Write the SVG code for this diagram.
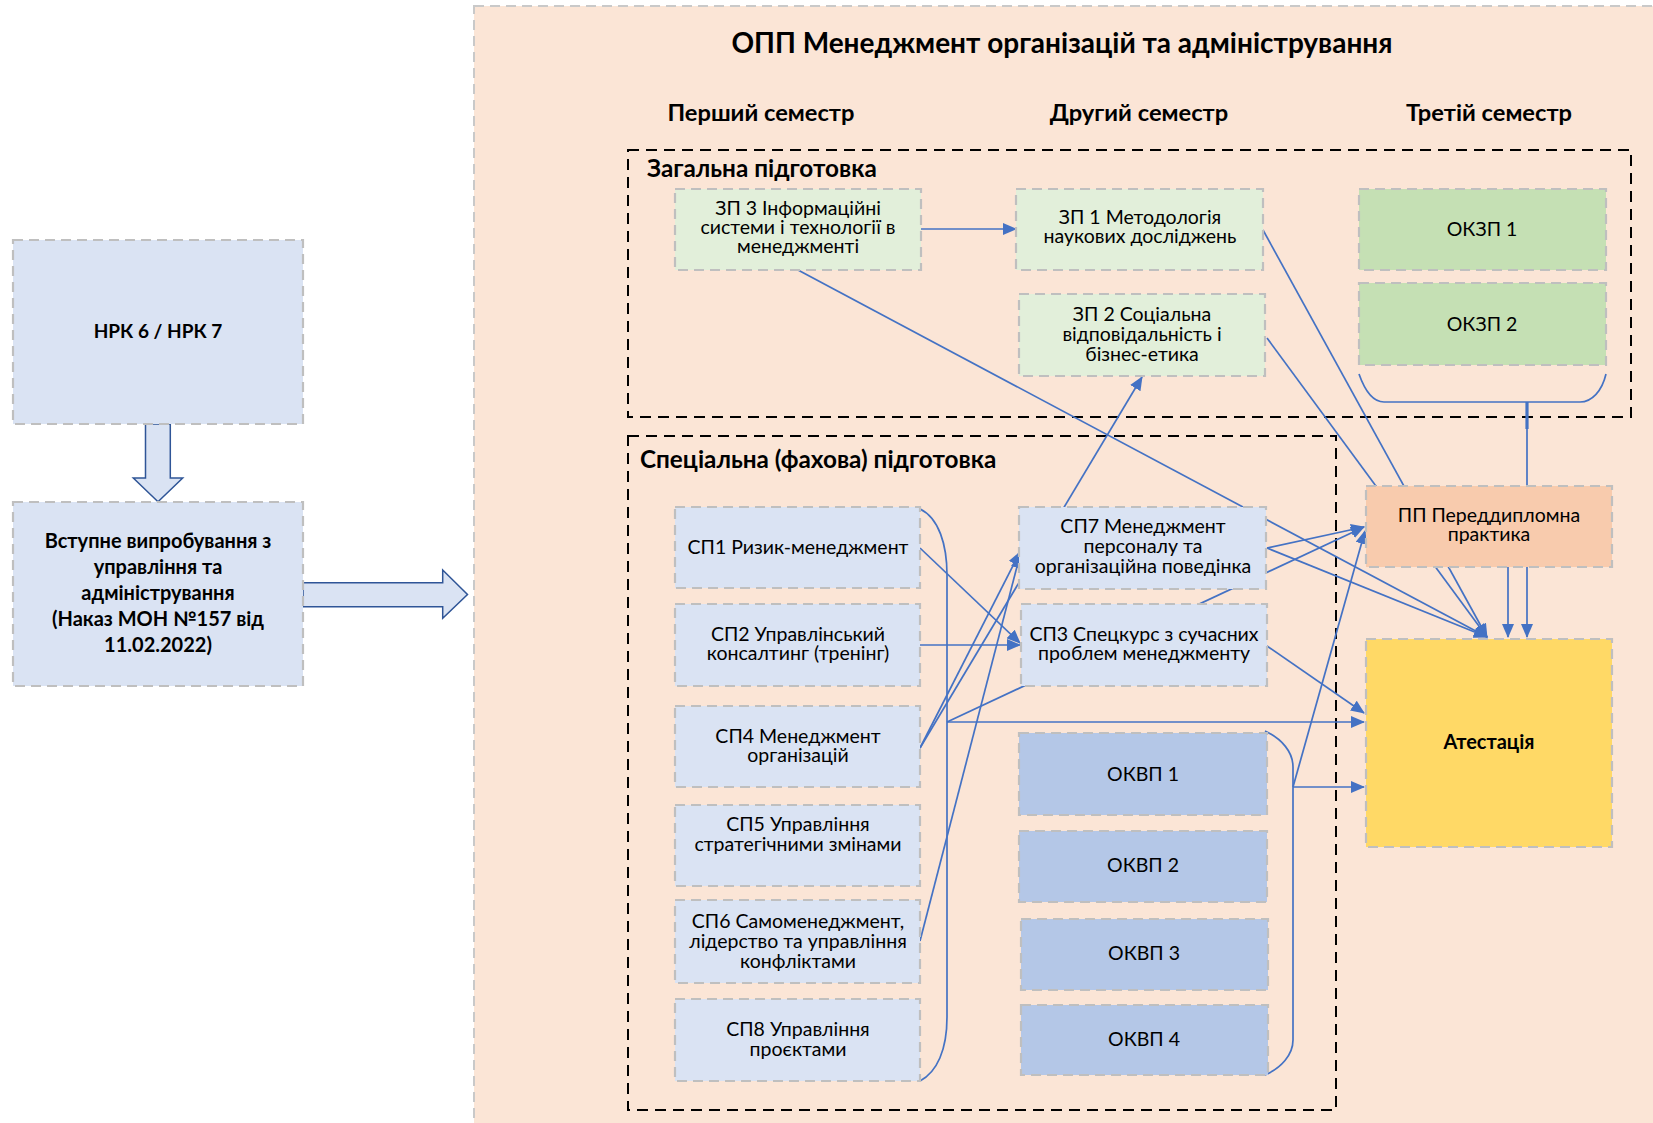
<svg xmlns="http://www.w3.org/2000/svg" width="1653" height="1123" viewBox="0 0 1653 1123">
<defs>
<style>
.bg{fill:#FBE5D6;stroke:#C9C9C9;stroke-width:2;stroke-dasharray:10 6}
.grp{fill:none;stroke:#000;stroke-width:2;stroke-dasharray:11 7}
.n{stroke:#BFBFBF;stroke-width:2.2;stroke-dasharray:10 6}
.b1{fill:#DAE3F3}
.g1{fill:#E2EFDA}
.g2{fill:#C5E0B4}
.b2{fill:#B4C7E7}
.o1{fill:#F8CBAD}
.y1{fill:#FFD966}
text{font-family:"Lato","Carlito","Noto Sans",sans-serif;fill:#000}
.t{font-size:19.5px;text-anchor:middle}
.tb{font-size:20px;font-weight:bold;text-anchor:middle}
.h{font-size:28px;font-weight:bold;text-anchor:middle}
.sh{font-size:23.7px;font-weight:bold;text-anchor:middle}
.gl{font-size:24.3px;font-weight:bold}
.c{fill:none;stroke:#4472C4;stroke-width:1.7}
.ca{fill:none;stroke:#4472C4;stroke-width:1.7;marker-end:url(#ah)}
.big{fill:#DAE3F3;stroke:#2F5597;stroke-width:1.5}
</style>
<marker id="ah" markerUnits="userSpaceOnUse" markerWidth="14" markerHeight="12" viewBox="0 0 14 12" refX="13" refY="6" orient="auto">
<path d="M0,0 L14,6 L0,12 Z" fill="#4472C4"/>
</marker>
</defs>

<rect class="bg" x="474" y="6" width="1200" height="1140"/>

<text class="h" x="1062" y="53">ОПП Менеджмент організацій та адміністрування</text>
<text class="sh" x="761" y="121">Перший семестр</text>
<text class="sh" x="1139" y="121">Другий семестр</text>
<text class="sh" x="1489" y="121">Третій семестр</text>

<g id="group-general">
<rect class="grp" x="628" y="150" width="1003" height="267"/>
<text class="gl" x="647" y="177">Загальна підготовка</text>
</g>
<g id="group-special">
<rect class="grp" x="628" y="436" width="708" height="674"/>
<text class="gl" x="640" y="468">Спеціальна (фахова) підготовка</text>
</g>

<g id="connectors">
<path class="ca" d="M921,229 L1016,229"/>
<path class="ca" d="M798,270 L1487,637"/>
<path class="ca" d="M1263,230 L1487,637"/>
<path class="ca" d="M1267,338 L1487,637"/>
<path class="ca" d="M1267,548 L1487,637"/>
<path class="ca" d="M1267,548 L1364,527"/>
<path class="ca" d="M947,722 L1364,527"/>
<path class="ca" d="M1293,787 L1365,531"/>
<path class="ca" d="M1267,646 L1364,713"/>
<path class="ca" d="M947,722 L1364,722"/>
<path class="ca" d="M1293,787 L1364,787"/>
<path class="ca" d="M1508,567 L1508,637"/>
<path class="ca" d="M1527,402 L1527,637"/>
<path class="c" d="M1527,402 L1527,429" style="stroke-width:3.2"/>
<path class="ca" d="M920,548 L1020,643"/>
<path class="ca" d="M920,645 L1020,645"/>
<path class="ca" d="M920,748 L1020,552"/>
<path class="ca" d="M920,748 L1142,377"/>
<path class="ca" d="M920,941 L1020,555"/>
<path class="c" d="M920,509 C939,518 947,545 947,575 L947,1017 C947,1050 937,1072 920,1081"/>
<path class="c" d="M1265,731 C1282,739 1293,752 1293,767 L1293,1040 C1293,1055 1281,1068 1265,1075"/>
<path class="c" d="M1359,374 C1365,391 1373,402 1384,402 L1580,402 C1592,402 1602,391 1606,374"/>
<polygon class="big" points="145.5,424 170.3,424 170.3,478 182.7,478 158,501.7 133.3,478 145.5,478"/>
<polygon class="big" points="303,582.7 442.7,582.7 442.7,570 467.5,594.5 442.7,618.3 442.7,606.7 303,606.7"/>
</g>

<g id="nrk"><rect class="n b1" x="13" y="240" width="290" height="184"/>
<text class="tb" x="158" y="338" style="font-size:19px">НРК 6 / НРК 7</text></g>
<g id="vstup"><rect class="n b1" x="13" y="502" width="290" height="184"/>
<text class="tb" x="158" y="548">Вступне випробування з</text>
<text class="tb" x="158" y="574">управління та</text>
<text class="tb" x="158" y="600">адміністрування</text>
<text class="tb" x="158" y="626">(Наказ МОН №157 від</text>
<text class="tb" x="158" y="652">11.02.2022)</text></g>

<g id="zp3"><rect class="n g1" x="675" y="189" width="246" height="81"/>
<text class="t" x="798" y="215">ЗП 3 Інформаційні</text>
<text class="t" x="798" y="234">системи і технології в</text>
<text class="t" x="798" y="253">менеджменті</text></g>
<g id="zp1"><rect class="n g1" x="1016" y="189" width="247" height="81"/>
<text class="t" x="1140" y="224">ЗП 1 Методологія</text>
<text class="t" x="1140" y="243">наукових досліджень</text></g>
<g id="zp2"><rect class="n g1" x="1019" y="294" width="246" height="82"/>
<text class="t" x="1142" y="321">ЗП 2 Соціальна</text>
<text class="t" x="1142" y="341">відповідальність і</text>
<text class="t" x="1142" y="361">бізнес-етика</text></g>
<g id="okzp1"><rect class="n g2" x="1359" y="189" width="247" height="81"/>
<text class="t" x="1482" y="236">ОКЗП 1</text></g>
<g id="okzp2"><rect class="n g2" x="1359" y="283" width="247" height="82"/>
<text class="t" x="1482" y="331">ОКЗП 2</text></g>

<g id="sp1"><rect class="n b1" x="675" y="507" width="245" height="81"/>
<text class="t" x="798" y="554">СП1 Ризик-менеджмент</text></g>
<g id="sp2"><rect class="n b1" x="675" y="604" width="245" height="82"/>
<text class="t" x="798" y="641">СП2 Управлінський</text>
<text class="t" x="798" y="660">консалтинг (тренінг)</text></g>
<g id="sp4"><rect class="n b1" x="675" y="706" width="245" height="81"/>
<text class="t" x="798" y="743">СП4 Менеджмент</text>
<text class="t" x="798" y="762">організацій</text></g>
<g id="sp5"><rect class="n b1" x="675" y="805" width="245" height="81"/>
<text class="t" x="798" y="831">СП5 Управління</text>
<text class="t" x="798" y="851">стратегічними змінами</text></g>
<g id="sp6"><rect class="n b1" x="675" y="900" width="245" height="83"/>
<text class="t" x="798" y="928">СП6 Самоменеджмент,</text>
<text class="t" x="798" y="948">лідерство та управління</text>
<text class="t" x="798" y="968">конфліктами</text></g>
<g id="sp8"><rect class="n b1" x="675" y="999" width="245" height="82"/>
<text class="t" x="798" y="1036">СП8 Управління</text>
<text class="t" x="798" y="1056">проєктами</text></g>

<g id="sp7"><rect class="n b1" x="1019" y="507" width="247" height="82"/>
<text class="t" x="1143" y="533">СП7 Менеджмент</text>
<text class="t" x="1143" y="553">персоналу та</text>
<text class="t" x="1143" y="573">організаційна поведінка</text></g>
<g id="sp3"><rect class="n b1" x="1021" y="604" width="246" height="82"/>
<text class="t" x="1144" y="641">СП3 Спецкурс з сучасних</text>
<text class="t" x="1144" y="660">проблем менеджменту</text></g>
<g id="okvp1"><rect class="n b2" x="1019" y="733" width="248" height="82"/>
<text class="t" x="1143" y="781">ОКВП 1</text></g>
<g id="okvp2"><rect class="n b2" x="1019" y="831" width="248" height="71"/>
<text class="t" x="1143" y="872">ОКВП 2</text></g>
<g id="okvp3"><rect class="n b2" x="1021" y="919" width="247" height="71"/>
<text class="t" x="1144" y="960">ОКВП 3</text></g>
<g id="okvp4"><rect class="n b2" x="1021" y="1005" width="247" height="70"/>
<text class="t" x="1144" y="1046">ОКВП 4</text></g>

<g id="pp"><rect class="n o1" x="1366" y="486" width="246" height="81"/>
<text class="t" x="1489" y="522">ПП Переддипломна</text>
<text class="t" x="1489" y="541">практика</text></g>
<g id="atest"><rect class="n y1" x="1366" y="639" width="246" height="208"/>
<text class="tb" x="1489" y="749">Атестація</text></g>
</svg>
